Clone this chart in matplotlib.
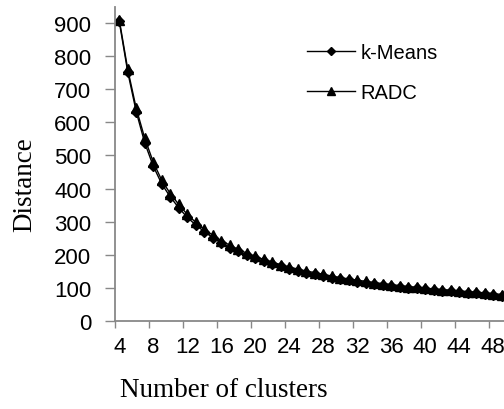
import numpy as np
import matplotlib.pyplot as plt

# number of clusters on the x axis
clusters = list(range(4, 51))

kmeans = [905, 752, 632, 538, 468, 414, 375, 342, 313, 290,
          270, 252, 236, 222, 210, 199, 189, 180, 172, 165,
          158, 152, 146, 141, 136, 131, 127, 123, 119, 116,
          113, 110, 107, 104, 101, 99, 96, 94, 92, 90,
          88, 86, 84, 82, 80, 77, 75]

radc = [910, 760, 642, 552, 480, 425, 385, 352, 322, 298,
        278, 259, 243, 229, 216, 205, 195, 186, 178, 170,
        163, 157, 151, 146, 141, 136, 131, 127, 123, 120,
        116, 113, 110, 107, 104, 102, 99, 97, 95, 93,
        91, 89, 87, 85, 83, 80, 78]

xtick_labels = list(range(4, 49, 4))
yticks = list(range(0, 1000, 100))

W, H = 504, 410
fig = plt.figure(figsize=(W / 100, H / 100), dpi=100)
ax = fig.add_axes([115 / W, 88 / H, 399.5 / W, 314.5 / H])

ax.plot(clusters, kmeans, color='black', lw=1, marker='D', markersize=5, label='k-Means')
ax.plot(clusters, radc, color='black', lw=1, marker='^', markersize=6.5, label='RADC')

ax.set_xlim(3.5, 50.5)
ax.set_ylim(0, 950)

grey = '#888888'
for s in ['top', 'right']:
    ax.spines[s].set_visible(False)
for s in ['left', 'bottom']:
    ax.spines[s].set_color(grey)
    ax.spines[s].set_linewidth(1.3)

ax.set_yticks(yticks)
ax.tick_params(axis='y', direction='out', length=7, width=1, color=grey, pad=10,
               labelsize=16)
for lab in ax.get_yticklabels():
    lab.set_fontfamily('Liberation Sans')

# labels at category centres, tick marks between categories
ax.set_xticks(xtick_labels)
ax.set_xticklabels([str(v) for v in xtick_labels], fontfamily='Liberation Sans')
ax.tick_params(axis='x', which='major', length=0, pad=11, labelsize=16)
ax.set_xticks(np.arange(3.5, 51, 4), minor=True)
ax.tick_params(axis='x', which='minor', direction='out', length=5, width=1, color=grey)

ax.set_ylabel('Distance', fontfamily='Liberation Serif', fontsize=19.5)
ax.yaxis.set_label_coords(25 / W, (410 - 185) / H, transform=fig.transFigure)
ax.yaxis.label.set_va('center')
ax.set_xlabel('Number of clusters', fontfamily='Liberation Serif', fontsize=19.5)
ax.xaxis.set_label_coords(224 / W, (410 - 391) / H, transform=fig.transFigure)
ax.xaxis.label.set_va('center')

leg = ax.legend(loc='upper left', bbox_to_anchor=(307 / W, 1 - 44 / H),
                bbox_transform=fig.transFigure, frameon=False, borderpad=0,
                borderaxespad=0, handlelength=2.4, handletextpad=0.25,
                labelspacing=1.05, prop={'family': 'Liberation Sans', 'size': 14.5},
                markerscale=0.8)

fig.savefig('out.png', dpi=100)
